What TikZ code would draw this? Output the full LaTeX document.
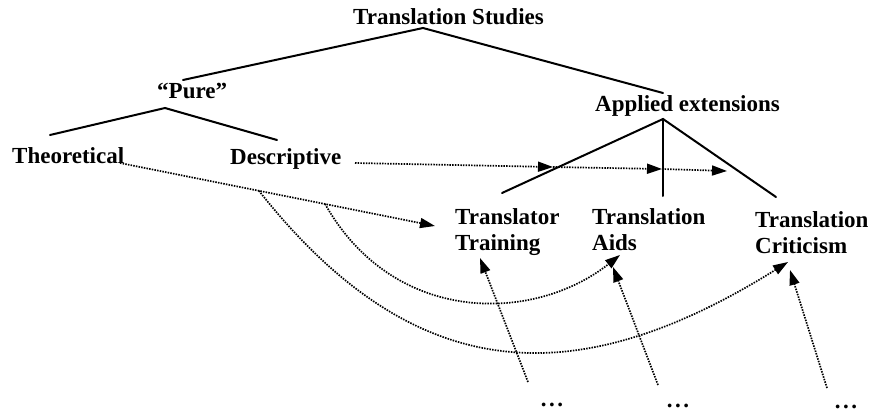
\documentclass[tikz,border=0pt]{standalone}
\usepackage{fontspec}
\setmainfont{Liberation Serif}
\usetikzlibrary{arrows.meta,calc}

\tikzset{
  label/.style={font=\fontsize{23}{26}\selectfont\bfseries, inner sep=0pt, anchor=base west},
  branch/.style={line width=2pt, line cap=round},
  link/.style={line width=1.7pt, dash pattern=on 1.5pt off 1.2pt,
               -{Triangle[length=15pt,width=10pt]}},
}

\newcommand{\twolines}[2]{\begin{tabular}[t]{@{}l@{}}#1\\#2\end{tabular}}
\newcommand{\threedots}{.\kern2.5pt.\kern2.5pt.}

\begin{document}
\begin{tikzpicture}[x=1pt,y=-1pt]
  \useasboundingbox (0,0) rectangle (870,412);

  % labels
  \node[label, anchor=base] (title) at (448.5,25) {Translation Studies};
  \node[label] (pure)    at (157,99)  {“Pure”};
  \node[label] (applied) at (595,111) {Applied extensions};
  \node[label] (theo)    at (12,163)  {Theoretical};
  \node[label] (desc)    at (230,164) {Descriptive};
  \node[label] (train)   at (455,224) {\twolines{Translator}{Training}};
  \node[label] (aids)    at (592,224) {\twolines{Translation}{Aids}};
  \node[label] (crit)    at (755,227) {\twolines{Translation}{Criticism}};
  \node[label, anchor=base] (dotsA) at (552,406) {\threedots};
  \node[label, anchor=base] (dotsB) at (678,407) {\threedots};
  \node[label, anchor=base] (dotsC) at (846,408) {\threedots};

  % tree branches
  \coordinate (ts-top) at (423,28);
  \coordinate (ts-l)   at (183,80);
  \coordinate (ts-r)   at (663,93);
  \coordinate (pu-top) at (165,108);
  \coordinate (pu-l)   at (50,135);
  \coordinate (pu-r)   at (277,140);
  \coordinate (ap-top) at (663,119);
  \coordinate (ap-l)   at (502,193);
  \coordinate (ap-m)   at (663,196);
  \coordinate (ap-r)   at (776,197);

  \draw[branch] (ts-l) -- (ts-top) -- (ts-r);
  \draw[branch] (pu-l) -- (pu-top) -- (pu-r);
  \draw[branch] (ap-l) -- (ap-top) -- (ap-r);
  \draw[branch] (ap-top) -- (ap-m);

  % descriptive research feeding the applied branch
  \coordinate (desc-out) at (355,163);
  \coordinate (d1) at (553,167);
  \coordinate (d2) at (662,169);
  \coordinate (d3) at (727,171);
  \draw[link] (desc-out) -- (d1);
  \draw[link] (d1) -- (d2);
  \draw[link] (d2) -- (d3);

  % theoretical research feeding the applied branch
  \coordinate (theo-out) at (120,163);
  \coordinate (theo-in)  at (435,226);
  \draw[link] (theo-out) -- (theo-in);
  \coordinate (fork1) at ($(theo-out)!0.441!(theo-in)$);
  \coordinate (fork2) at ($(theo-out)!0.651!(theo-in)$);
  \coordinate (aids-in) at (620,255);
  \coordinate (crit-in) at (788,262);
  \draw[link] (fork2) .. controls (394,326) and (534,323) .. (aids-in);
  \draw[link] (fork1) .. controls (414,387) and (575,395) .. (crit-in);

  % further inputs from below
  \coordinate (upA) at (528,382);
  \coordinate (upB) at (658,385);
  \coordinate (upC) at (827,388);
  \coordinate (train-in) at (480,258);
  \coordinate (aids-in2) at (613,267);
  \coordinate (crit-in2) at (790,270);
  \draw[link] (upA) -- (train-in);
  \draw[link] (upB) -- (aids-in2);
  \draw[link] (upC) -- (crit-in2);
\end{tikzpicture}
\end{document}
